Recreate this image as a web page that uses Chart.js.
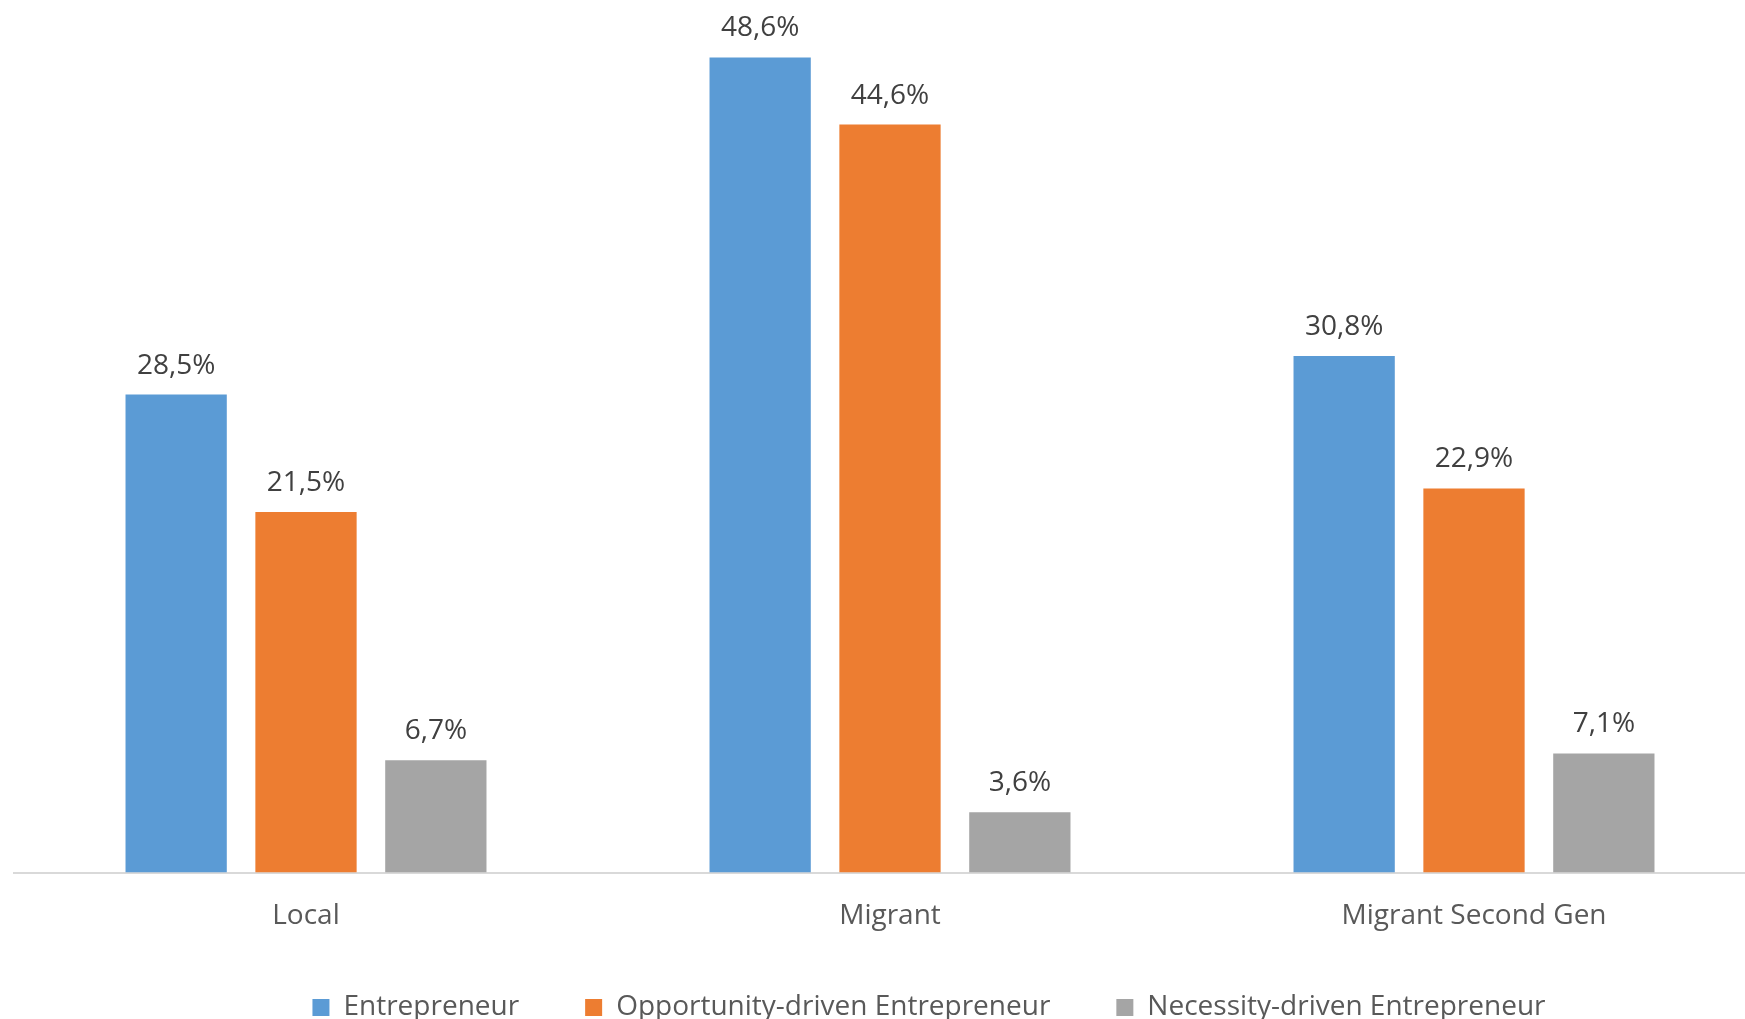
<!DOCTYPE html>
<html>
<head>
<meta charset="utf-8">
<script src="https://cdn.jsdelivr.net/npm/chart.js@4"></script>
<style>
  html, body { margin: 0; padding: 0; background: #fff; overflow: hidden; }
  #wrap { width: 1844px; height: 1019px; }
</style>
</head>
<body>
<div id="wrap"><canvas id="chart" width="1844" height="1019"></canvas></div>
<script>
// --- DATA --- //
const categories = ['Local', 'Migrant', 'Migrant Second Gen']
const entrepreneur = [28.5, 48.6, 30.8]
const opportunityDriven = [21.5, 44.6, 22.9]
const necessityDriven = [6.7, 3.6, 7.1]

// formato com vírgula, ex: 28,5%
const fmt = v => v.toFixed(1).replace('.', ',') + '%'

const FONT = "'Open Sans', sans-serif"

// Plugin para escrever os valores acima das barras
const valueLabels = {
  id: 'valueLabels',
  // deixa os rótulos do eixo x passarem por cima da caixa da legenda
  afterLayout: chart => {
    chart.scales.x.bottom = chart.height
  },
  afterDatasetsDraw: chart => {
    const ctx = chart.ctx
    ctx.save()
    ctx.font = `28px ${FONT}`
    ctx.fillStyle = '#404040'
    ctx.textAlign = 'center'
    ctx.textBaseline = 'alphabetic'
    chart.data.datasets.forEach((ds, i) => {
      chart.getDatasetMeta(i).data.forEach((bar, j) => {
        ctx.fillText(fmt(ds.data[j]), bar.x, bar.y - 21)
      })
    })
    ctx.restore()
  }
}

const data = {
  labels: categories,
  datasets: [
    { label: 'Entrepreneur', data: entrepreneur, backgroundColor: '#5B9BD5' },
    { label: 'Opportunity-driven Entrepreneur', data: opportunityDriven, backgroundColor: '#ED7D31' },
    { label: 'Necessity-driven Entrepreneur', data: necessityDriven, backgroundColor: '#A5A5A5' }
  ]
}

const config = {
  type: 'bar',
  data: data,
  options: {
    responsive: false,
    animation: false,
    devicePixelRatio: 1,
    categoryPercentage: 0.667,
    barPercentage: 0.78,
    layout: { padding: { left: 14, right: 0, top: 34, bottom: 0 } },
    scales: {
      x: {
        grid: { display: false, drawTicks: false },
        border: { display: true, color: '#D9D9D9', width: 2 },
        ticks: { color: '#595959', font: { family: FONT, size: 28 }, padding: 27 },
        afterFit: scale => { scale.height = 55 }
      },
      y: {
        position: 'right',
        min: 0,
        max: 50,
        grid: { display: false },
        border: { display: false },
        ticks: { display: false },
        // eixo invisível à direita (a legenda fica centrada na largura toda)
        afterFit: scale => { scale.width = 78 }
      }
    },
    plugins: {
      legend: {
        position: 'bottom',
        maxHeight: 91.5,
        labels: {
          color: '#595959',
          font: { family: FONT, size: 28 },
          boxWidth: 17,
          boxHeight: 17,
          padding: 66
        }
      },
      tooltip: { enabled: false }
    }
  },
  plugins: [valueLabels]
}

new Chart(document.getElementById('chart'), config)
</script>
</body>
</html>
